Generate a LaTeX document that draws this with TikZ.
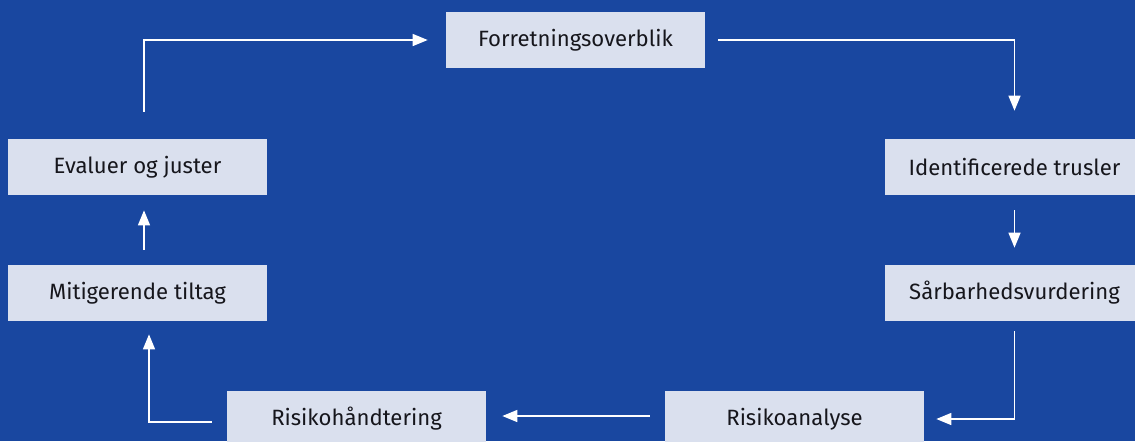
\documentclass[tikz,border=0pt]{standalone}
\usepackage{fontspec}
\setmainfont{Fira Sans}
\usetikzlibrary{arrows.meta,positioning,calc}
\definecolor{bgcolor}{RGB}{25,71,160}
\definecolor{boxcolor}{RGB}{218,224,238}
\definecolor{txtcolor}{RGB}{22,22,28}
\tikzset{
  stepbox/.style={fill=boxcolor, text=txtcolor, minimum width=5.18cm,
    minimum height=1.12cm, inner sep=0pt, font=\fontsize{12.6}{15}\selectfont},
  flowln/.style={-{Triangle[length=0.3cm,width=0.24cm]}, white, line width=0.8pt},
}

\begin{document}
\begin{tikzpicture}[x=0.02cm, y=-0.02cm]
    % canvas
    \useasboundingbox (0,0) rectangle (1135,441);
    \fill[bgcolor] (0,0) rectangle (1135,441);
    \begin{scope}
    \clip (0,0) rectangle (1135,441);
    % process steps
    \node[stepbox] (overblik) at (575.5,40) {Forretningsoverblik};
    \node[stepbox] (trusler) at (1014.5,167) {Identificerede trusler};
    \node[stepbox] (saarbar) at (1014.5,293) {Sårbarhedsvurdering};
    \node[stepbox] (analyse) at (794.5,419) {Risikoanalyse};
    \node[stepbox] (haandtering) at (356.5,419) {Risikohåndtering};
    \node[stepbox] (tiltag) at (137.5,293) {Mitigerende tiltag};
    \node[stepbox] (evaluer) at (137.5,167) {Evaluer og juster};
    \end{scope}
    % flow between steps
    \draw[flowln, shorten <=0.54cm, shorten >=0.36cm]
      ([xshift=0.13cm]evaluer.north) |- (overblik.west);
    \draw[flowln, shorten <=0.26cm, shorten >=0.56cm]
      (overblik.east) -| (trusler.north);
    \draw[flowln, shorten <=0.3cm, shorten >=0.34cm]
      (trusler.south) -- (saarbar.north);
    \draw[flowln, shorten <=0.2cm, shorten >=0.24cm]
      (saarbar.south) |- (analyse.east);
    \draw[flowln, shorten <=0.3cm, shorten >=0.32cm]
      ([yshift=0.06cm]analyse.west) -- ([yshift=0.06cm]haandtering.east);
    \draw[flowln, shorten <=0.3cm, shorten >=0.26cm]
      ([yshift=-0.06cm]haandtering.west) -| ([xshift=0.23cm]tiltag.south);
    \draw[flowln, shorten <=0.3cm, shorten >=0.3cm]
      ([xshift=0.13cm]tiltag.north) -- ([xshift=0.13cm]evaluer.south);
\end{tikzpicture}
\end{document}
